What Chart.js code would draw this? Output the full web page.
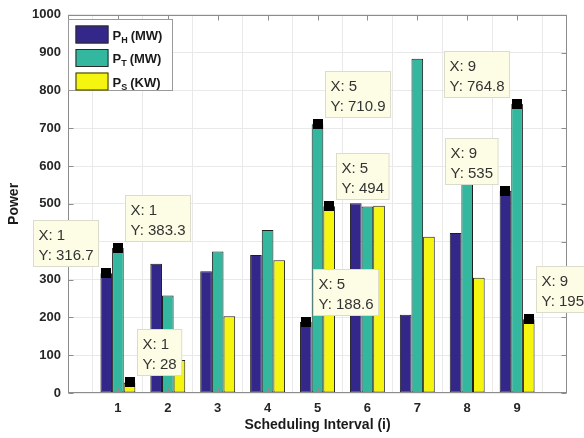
<!DOCTYPE html>
<html>
<head>
<meta charset="utf-8">
<script src="https://cdn.jsdelivr.net/npm/chart.js@4/dist/chart.umd.min.js"></script>
<style>
  html, body { margin: 0; padding: 0; background: #ffffff; }
  canvas { display: block; }
</style>
</head>
<body>
<canvas id="chart" width="584" height="438"></canvas>
<script>
// Scheduling intervals and their tick labels
const intervals = [1, 2, 3, 4, 5, 6, 7, 8, 9];
const tickLabels = ['1', '2', '3', '4', '5', '6', '7', '8', '9'];

// Power per interval for each source
const powerH = [316.7, 342, 322, 365, 188.6, 502, 207, 423, 535];
const powerT = [383.3, 258, 374, 431, 710.9, 493, 884, 600, 764.8];
const powerS = [28, 87, 203, 351, 494, 495, 413, 305, 195];

// Legend text pieces: symbol, subscript, unit
const seriesSymbol = ['P', 'P', 'P'];
const seriesSub = ['H', 'T', 'S'];
const seriesUnit = ['(MW)', '(MW)', '(KW)'];

// Data tips: [series index, interval index]
const dataTips = [[0, 0], [1, 0], [2, 0], [1, 4], [2, 4], [0, 4], [1, 8], [0, 8], [2, 8]];

const seriesValues = [powerH, powerT, powerS];
const seriesColors = ['#33288a', '#33b89f', '#f5f50f'];

const FONT = '"Liberation Sans", Arial, Helvetica, sans-serif';

// Frame, inward ticks, legend, markers and data tips
const overlay = {
  id: 'overlay',
  afterDatasetsDraw(chart) {
    const { ctx, chartArea: a, scales: { x, y } } = chart;
    ctx.save();

    // axis box
    ctx.strokeStyle = '#8c8c8c';
    ctx.lineWidth = 1;
    const L = Math.round(a.left) + 0.5, R = Math.round(a.right) - 0.5;
    const T = Math.round(a.top) + 0.5, B = Math.round(a.bottom) - 0.5;
    ctx.strokeRect(L, T, R - L, B - T);

    // inward tick marks
    ctx.beginPath();
    for (let v = 0; v <= 1000; v += 100) {
      const py = Math.round(y.getPixelForValue(v)) + 0.5;
      ctx.moveTo(L, py); ctx.lineTo(L + 5, py);
      ctx.moveTo(R, py); ctx.lineTo(R - 5, py);
    }
    intervals.forEach(v => {
      const px = Math.round(x.getPixelForValue(v)) + 0.5;
      ctx.moveTo(px, B); ctx.lineTo(px, B - 5);
      ctx.moveTo(px, T); ctx.lineTo(px, T + 5);
    });
    ctx.stroke();

    // legend
    const lx = L, ly = T + 4;
    ctx.fillStyle = '#ffffff';
    ctx.fillRect(lx, ly, 104, 71);
    ctx.strokeStyle = '#9a9a9a';
    ctx.strokeRect(lx, ly, 104, 71);
    for (let k = 0; k < 3; k++) {
      const sy = ly + 6 + k * 23.5;
      ctx.fillStyle = seriesColors[k];
      ctx.fillRect(lx + 7, sy, 33, 18);
      ctx.strokeStyle = '#2a2a2a';
      ctx.strokeRect(lx + 7.5, sy + 0.5, 32, 17);
      ctx.fillStyle = '#1a1a1a';
      ctx.textBaseline = 'alphabetic';
      ctx.textAlign = 'left';
      let tx = lx + 44;
      const base = sy + 14;
      ctx.font = 'bold 13px ' + FONT;
      ctx.fillText(seriesSymbol[k], tx, base);
      tx += ctx.measureText(seriesSymbol[k]).width;
      ctx.font = 'bold 9px ' + FONT;
      ctx.fillText(seriesSub[k], tx, base + 3);
      tx += ctx.measureText(seriesSub[k]).width + 3;
      ctx.font = 'bold 13px ' + FONT;
      ctx.fillText(seriesUnit[k], tx, base);
    }

    // data tip markers
    ctx.fillStyle = '#000000';
    dataTips.forEach(([s, i]) => {
      const el = chart.getDatasetMeta(s).data[i];
      ctx.fillRect(Math.round(el.x) - 5, Math.round(el.y) - 5, 10, 10);
    });

    // data tip boxes
    const tipSide = ['left', 'right', 'right', 'right', 'right', 'right', 'left', 'left', 'right'];
    ctx.font = '15px ' + FONT;
    dataTips.forEach(([s, i], n) => {
      const el = chart.getDatasetMeta(s).data[i];
      const lines = ['X: ' + intervals[i], 'Y: ' + seriesValues[s][i]];
      const w = Math.max(...lines.map(t => ctx.measureText(t).width)) + 10;
      const h = 46;
      const bx = Math.round(tipSide[n] === 'left' ? el.x - 8 - w : el.x + 7) + 0.5;
      const by = Math.round(el.y - 53) + 0.5;
      ctx.fillStyle = '#fdfde6';
      ctx.fillRect(bx, by, w, h);
      ctx.strokeStyle = '#dcdccc';
      ctx.strokeRect(bx, by, w, h);
      ctx.fillStyle = '#333333';
      ctx.textAlign = 'left';
      ctx.textBaseline = 'middle';
      ctx.fillText(lines[0], bx + 5, by + 15);
      ctx.fillText(lines[1], bx + 5, by + 35);
    });

    ctx.restore();
  }
};

const makeSet = (values, color) => ({
  data: intervals.map((v, i) => ({ x: v, y: values[i] })),
  backgroundColor: color,
  borderColor: '#1e1e1e',
  borderWidth: 1,
  borderSkipped: false,
  categoryPercentage: 0.7,
  barPercentage: 1.0
});

new Chart(document.getElementById('chart'), {
  type: 'bar',
  data: {
    datasets: [
      makeSet(powerH, seriesColors[0]),
      makeSet(powerT, seriesColors[1]),
      makeSet(powerS, seriesColors[2])
    ]
  },
  options: {
    responsive: false,
    animation: false,
    devicePixelRatio: 1,
    layout: { padding: { top: 10, right: 17, left: 0, bottom: 0 } },
    plugins: { legend: { display: false }, tooltip: { enabled: false } },
    scales: {
      x: {
        type: 'linear',
        min: 0,
        max: 10,
        offset: false,
        afterFit: s => { s.height = 45; },
        grid: { color: '#e9e9e9', drawTicks: false },
        border: { display: false },
        ticks: {
          stepSize: 1,
          padding: 8,
          color: '#262626',
          font: { family: FONT, size: 13, weight: 'bold' },
          callback: v => (v >= 1 && v <= 9) ? tickLabels[v - 1] : ''
        },
        title: {
          display: true,
          text: 'Scheduling Interval (i)',
          color: '#1a1a1a',
          font: { family: FONT, size: 14, weight: 'bold' },
          padding: { top: 0, bottom: 4 }
        }
      },
      y: {
        min: 0,
        max: 1000,
        afterFit: s => { s.width = 68; },
        grid: { color: '#e9e9e9', drawTicks: false },
        border: { display: false },
        ticks: {
          stepSize: 100,
          padding: 7,
          color: '#262626',
          font: { family: FONT, size: 13, weight: 'bold' },
          callback: v => String(v)
        },
        title: {
          display: true,
          text: 'Power',
          color: '#1a1a1a',
          font: { family: FONT, size: 14, weight: 'bold' },
          padding: { top: 6, bottom: 0 }
        }
      }
    }
  },
  plugins: [overlay]
});
</script>
</body>
</html>
